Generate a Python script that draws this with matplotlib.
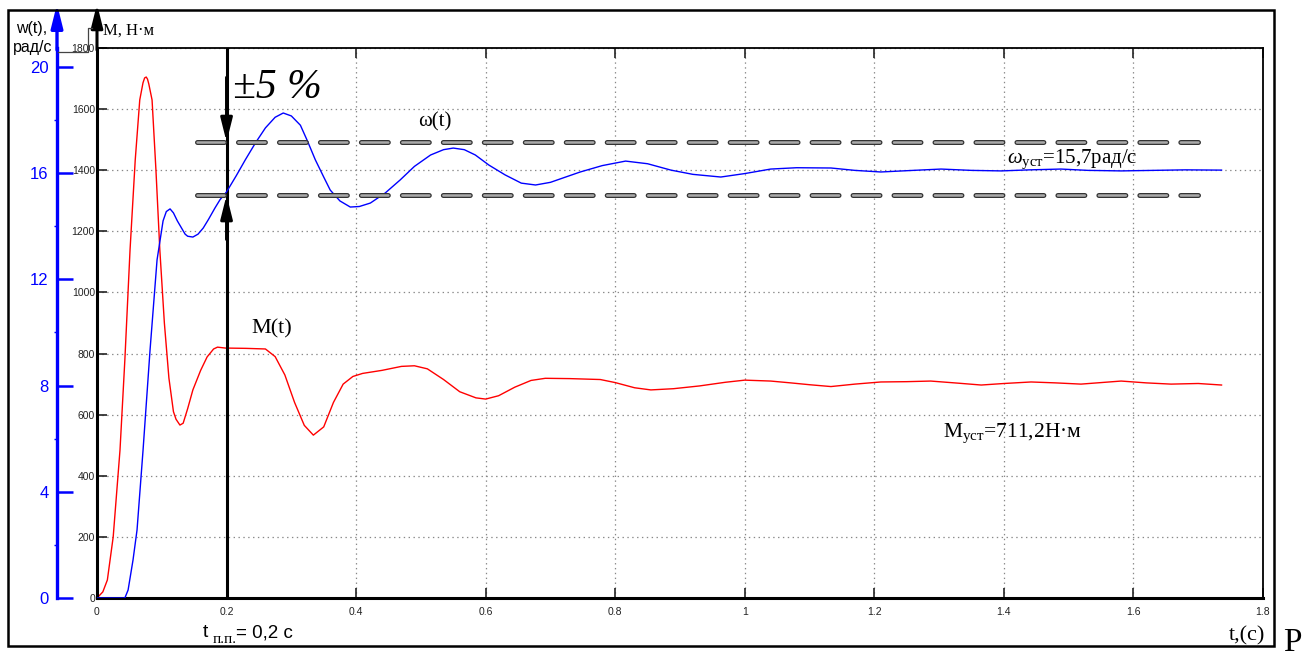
import numpy as np
import matplotlib
matplotlib.use('Agg')
import matplotlib.pyplot as plt
from matplotlib.lines import Line2D
from matplotlib.patches import Rectangle, FancyArrowPatch

plt.rcParams['font.family'] = ['Liberation Sans', 'DejaVu Sans']
plt.rcParams['lines.scale_dashes'] = False
plt.rcParams['mathtext.fontset'] = 'custom'
plt.rcParams['mathtext.rm'] = 'Liberation Serif'
plt.rcParams['mathtext.it'] = 'Liberation Serif:italic'

# torque M(t), N*m
t_m = [0, 0.009, 0.016, 0.025, 0.0355, 0.043, 0.051, 0.059, 0.066, 0.071, 0.0735,
       0.076, 0.078, 0.080, 0.085, 0.091, 0.097, 0.104, 0.111, 0.118, 0.122, 0.128,
       0.133, 0.14, 0.148, 0.16, 0.17, 0.18, 0.186, 0.198, 0.23, 0.26, 0.275,
       0.29, 0.305, 0.32, 0.334, 0.35, 0.365, 0.38, 0.395, 0.41, 0.44, 0.47,
       0.49, 0.51, 0.535, 0.56, 0.585, 0.6, 0.62, 0.645, 0.67, 0.692, 0.73,
       0.777, 0.80, 0.83, 0.855, 0.89, 0.93, 0.97, 1.0, 1.04, 1.071, 1.1,
       1.133, 1.17, 1.21, 1.25, 1.287, 1.33, 1.365, 1.40, 1.442, 1.48, 1.519,
       1.55, 1.581, 1.62, 1.658, 1.70, 1.736]
m_vals = [0, 20, 59, 200, 484, 779, 1139, 1433, 1630, 1686, 1702,
          1705, 1698, 1682, 1630, 1400, 1139, 900, 720, 610, 585, 566,
          572, 620, 681, 745, 789, 815, 821, 818, 817, 815, 790,
          730, 640, 565, 533, 560, 640, 700, 725, 735, 745, 758,
          760, 750, 715, 675, 655, 651, 662, 690, 712, 719, 718,
          715, 705, 688, 681, 685, 694, 706, 713, 710, 704, 698,
          692, 700, 707, 708, 710, 703, 697, 702, 707, 704, 700,
          705, 710, 704, 700, 702, 697]

# speed w(t), rad/s
t_w = [0, 0.043, 0.048, 0.0556, 0.0618, 0.0711, 0.0819, 0.0927, 0.102, 0.107,
       0.1128, 0.118, 0.124, 0.136, 0.14, 0.148, 0.156, 0.164, 0.172, 0.182,
       0.19, 0.2, 0.215, 0.229, 0.245, 0.26, 0.275, 0.2875, 0.30, 0.314, 0.325,
       0.337, 0.35, 0.36, 0.375, 0.391, 0.405, 0.422, 0.445, 0.468, 0.49, 0.515,
       0.535, 0.55, 0.567, 0.584, 0.605, 0.63, 0.655, 0.677, 0.70, 0.72, 0.746,
       0.78, 0.816, 0.85, 0.886, 0.92, 0.963, 1.0, 1.04, 1.08, 1.133, 1.17,
       1.21, 1.26, 1.303, 1.35, 1.396, 1.44, 1.488, 1.53, 1.581, 1.63, 1.68,
       1.736]
w_vals = [0, 0, 0.3, 1.43, 2.56, 5.57, 9.34, 12.73, 14.2, 14.55,
          14.65, 14.5, 14.2, 13.7, 13.62, 13.59, 13.7, 13.93, 14.25, 14.68,
          15.0, 15.29, 15.9, 16.5, 17.15, 17.7, 18.1, 18.26, 18.15, 17.8, 17.2,
          16.5, 15.85, 15.36, 14.95, 14.72, 14.74, 14.87, 15.25, 15.74, 16.25, 16.68,
          16.88, 16.94, 16.88, 16.68, 16.3, 15.93, 15.62, 15.55, 15.65, 15.82, 16.04,
          16.28, 16.45, 16.35, 16.11, 15.95, 15.85, 15.98, 16.15, 16.2, 16.19, 16.1,
          16.04, 16.1, 16.15, 16.1, 16.08, 16.12, 16.15, 16.1, 16.08, 16.1, 16.12,
          16.11]

# +-5% band around steady speed
band_levels = [15.17, 17.17]
band_t = [0.154, 1.70]
t_pp = 0.2

m_ticks = [0, 200, 400, 600, 800, 1000, 1200, 1400, 1600, 1800]
t_ticks = [0, 0.2, 0.4, 0.6, 0.8, 1.0, 1.2, 1.4, 1.6, 1.8]
t_labels = ['0', '0.2', '0.4', '0.6', '0.8', '1', '1.2', '1.4', '1.6', '1.8']
w_ticks = [0, 4, 8, 12, 16, 20]
w_minor = [2, 6, 10, 14, 18]

W, H = 1312, 658


def fx(x):
    return x / W


def fy(y):
    return 1 - y / H


fig = plt.figure(figsize=(13.12, 6.58), dpi=100)
ax = fig.add_axes([fx(97), fy(598), (1263 - 97) / W, (598 - 48) / H])
ax.set_xlim(0, 1.8)
ax.set_ylim(0, 1800)
ax.set_xticks(t_ticks)
ax.set_xticklabels(t_labels)
ax.set_yticks(m_ticks)
ax.tick_params(direction='in', length=7, width=1.2, labelsize=7.5,
               top=True, right=True, color='#222', labelcolor='#222')
ax.tick_params(axis='y', pad=1.5)
ax.tick_params(axis='x', pad=6.5)
ax.grid(True, color='#888', lw=0.9, linestyle=(0, (1, 2.5)))
ax.spines['left'].set_linewidth(2.2)
ax.spines['bottom'].set_linewidth(2.2)
ax.spines['top'].set_linewidth(1.3)
ax.spines['right'].set_linewidth(1.3)

ax.plot(t_m, m_vals, color='red', lw=1.0)
ax.axvline(t_pp, color='black', lw=2.2)

# speed axis (blue, left of the torque axis)
ax2 = ax.twinx()
ax2.set_ylim(0, 550 / 26.56)
for s in ['right', 'top', 'bottom']:
    ax2.spines[s].set_visible(False)
ax2.spines['left'].set_visible(True)
ax2.spines['left'].set_position(('outward', 40 * 0.72))
ax2.spines['left'].set_color('blue')
ax2.spines['left'].set_linewidth(2.4)
ax2.yaxis.set_ticks_position('left')
ax2.set_yticks(w_ticks)
ax2.set_yticks(w_minor, minor=True)
ax2.tick_params(axis='y', which='major', direction='in', length=11.5, width=1.8,
                color='blue', labelcolor='blue', labelsize=12, pad=6)
ax2.tick_params(axis='y', which='minor', direction='out', length=2, width=1,
                color='blue')

ax2.plot(t_w, w_vals, color='blue', lw=1.0)

for lev in band_levels:
    ax2.plot(band_t, [lev, lev], color='#333333', lw=3.6, dashes=(19.4, 10.1),
             dash_capstyle='round')
    ax2.plot(band_t, [lev, lev], color='#aaaaaa', lw=1.8, dashes=(19.4, 10.1),
             dash_capstyle='round')

arrow_kw = dict(arrowstyle='-|>,head_length=1.4,head_width=0.35', color='black',
                lw=2.2, shrinkA=0, shrinkB=0, mutation_scale=10)
ax2.annotate('', xy=(t_pp, band_levels[1]), xytext=(t_pp, 19.6), arrowprops=arrow_kw)
ax2.annotate('', xy=(t_pp, band_levels[0]), xytext=(t_pp, 13.5), arrowprops=arrow_kw)

# arrows on top of both vertical axes
fig.add_artist(FancyArrowPatch((fx(97), fy(50)), (fx(97), fy(4)), transform=fig.transFigure,
                               arrowstyle='-|>,head_length=1.4,head_width=0.35',
                               mutation_scale=10, color='black', lw=2.2,
                               shrinkA=0, shrinkB=0))
fig.add_artist(FancyArrowPatch((fx(57), fy(50)), (fx(57), fy(4)), transform=fig.transFigure,
                               arrowstyle='-|>,head_length=1.4,head_width=0.35',
                               mutation_scale=10, color='blue', lw=2.4,
                               shrinkA=0, shrinkB=0))
fig.add_artist(Line2D([fx(58), fx(88), fx(88), fx(92)], [fy(52), fy(52), fy(28), fy(28)],
                      transform=fig.transFigure, color='#444', lw=0.9))

# outer frame
fig.add_artist(Rectangle((fx(8), fy(646)), (1274 - 8) / W, (646 - 10) / H,
                         transform=fig.transFigure, fill=False, lw=1.8, ec='black'))

serif = ['Liberation Serif', 'DejaVu Serif']
fig.text(fx(16), fy(33), 'w(t),', fontsize=11.5)
fig.text(fx(13), fy(52), 'рад/с', fontsize=11.5)
fig.text(fx(103), fy(35), 'M, Н·м', fontsize=12, family=serif)
fig.text(fx(233), fy(98), '±5 %', fontsize=30, family=serif, style='italic')
fig.text(fx(418), fy(126), 'ω(t)', fontsize=15, family=serif)
fig.text(fx(1007), fy(163), r'$\omega_{\mathrm{уст}}$=15,7рад/с', fontsize=15, family=serif)
fig.text(fx(251), fy(333), 'M(t)', fontsize=16, family=serif)
fig.text(fx(943), fy(437), r'M$_{\mathrm{уст}}$=711,2Н·м', fontsize=15.5, family=serif)
fig.text(fx(203), fy(637), 't', fontsize=14)
fig.text(fx(213), fy(643), 'п.п.', fontsize=11, family=serif)
fig.text(fx(236), fy(637), '= 0,2 с', fontsize=13.5)
fig.text(fx(1229), fy(640), 't,(c)', fontsize=16, family=serif)
fig.text(fx(1283), fy(651), 'P', fontsize=24, family=serif)

fig.savefig('out.png', dpi=100)
